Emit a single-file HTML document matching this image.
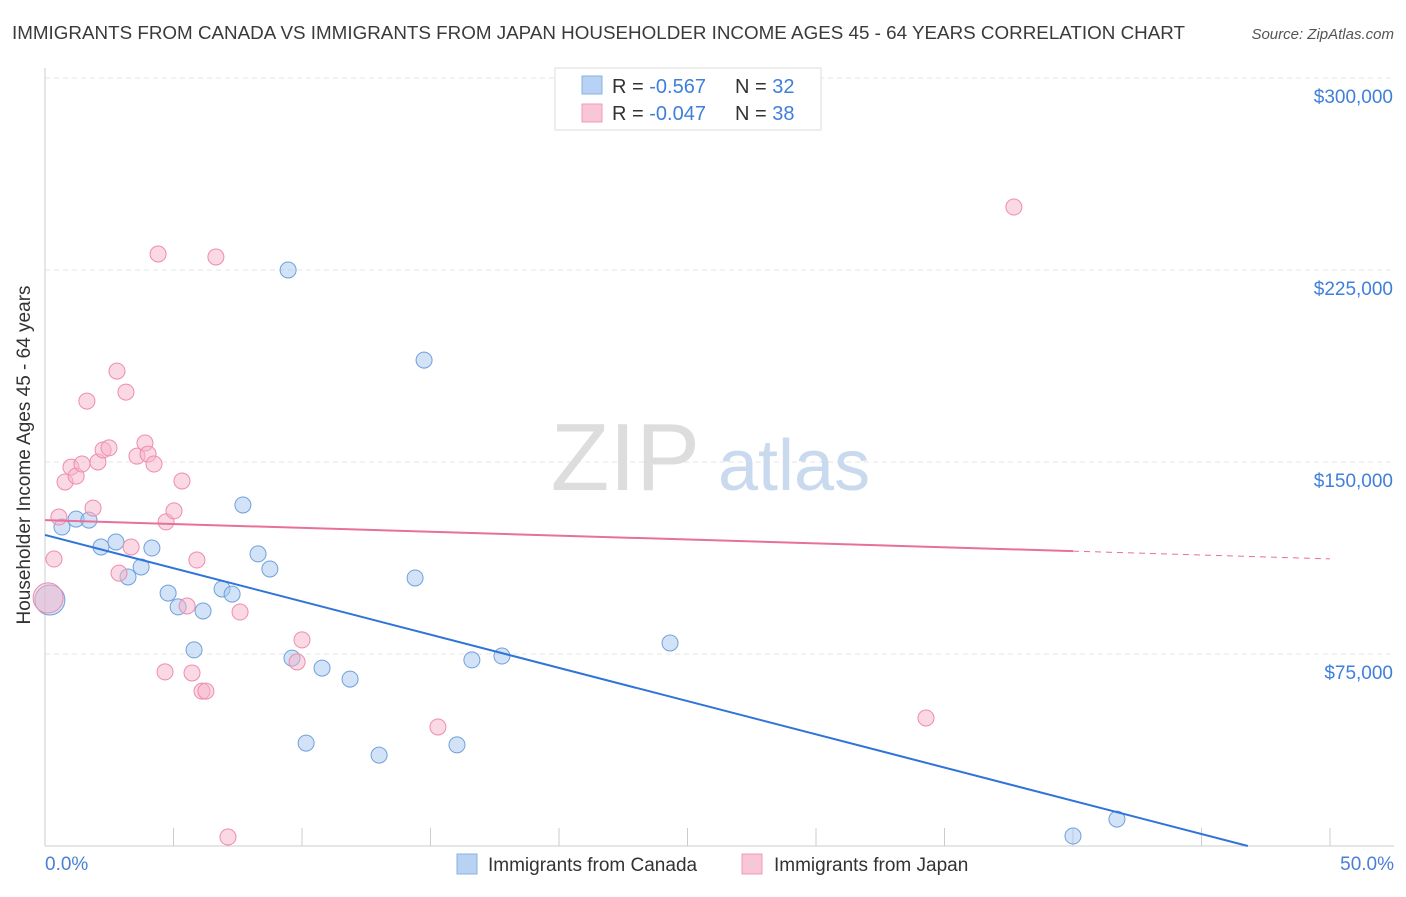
<!DOCTYPE html>
<html><head><meta charset="utf-8">
<style>
body{margin:0;background:#fff;font-family:"Liberation Sans",sans-serif;}
svg text{font-family:"Liberation Sans",sans-serif;}
</style></head>
<body>
<svg id="chart" width="1406" height="892" viewBox="0 0 1406 892" xmlns="http://www.w3.org/2000/svg">
<text x="12" y="39" font-size="18" fill="#3a3a3a" textLength="1173" lengthAdjust="spacingAndGlyphs">IMMIGRANTS FROM CANADA VS IMMIGRANTS FROM JAPAN HOUSEHOLDER INCOME AGES 45 - 64 YEARS CORRELATION CHART</text>
<text x="1394" y="39" font-size="15" fill="#555" font-style="italic" text-anchor="end">Source: ZipAtlas.com</text>
<g id="grid"></g>
<text x="700" y="490" font-size="96" fill="#ddd" font-family="Liberation Serif" text-anchor="end">ZIP</text>
<text x="718" y="490" font-size="72" fill="#c9d9ee">atlas</text>
<g id="marks"></g>
<text x="30" y="455" font-size="19" fill="#333" text-anchor="middle" transform="rotate(-90 30 455)">Householder Income Ages 45 - 64 years</text>
<text x="45" y="870" font-size="19" fill="#4a7fd4">0.0%</text>
<text x="1394" y="870" font-size="19" fill="#4a7fd4" text-anchor="end">50.0%</text>
<g>
<rect x="555" y="68" width="266" height="62" fill="#fff" stroke="#ddd"/>
<rect x="582" y="76" width="20" height="18" fill="#b8d2f4" stroke="#8ab0e4"/>
<rect x="582" y="104" width="20" height="18" fill="#f8c6d6" stroke="#f09ab8"/>
<text x="612" y="93" font-size="20" fill="#333">R = <tspan fill="#3f7fdc">-0.567</tspan><tspan x="735">N = </tspan><tspan fill="#3f7fdc">32</tspan></text>
<text x="612" y="120" font-size="20" fill="#333">R = <tspan fill="#3f7fdc">-0.047</tspan><tspan x="735">N = </tspan><tspan fill="#3f7fdc">38</tspan></text>
</g>
<g>
<rect x="457" y="854" width="20" height="20" fill="#b8d2f4" stroke="#8ab0e4"/>
<text x="488" y="871" font-size="19" fill="#333">Immigrants from Canada</text>
<rect x="742" y="854" width="20" height="20" fill="#f8c6d6" stroke="#f09ab8"/>
<text x="774" y="871" font-size="19" fill="#333">Immigrants from Japan</text>
</g>
</svg>
<script>
const yTicks=[75000,150000,225000,300000];
const yTickLabels=["$75,000","$150,000","$225,000","$300,000"];
const xTicks=[0,5,10,15,20,25,30,35,40,45,50];
const canadaX=[0.19,0.66,1.21,1.71,2.18,2.76,3.23,3.74,4.16,4.79,5.18,5.80,6.15,6.89,7.28,7.70,8.29,8.75,9.46,9.61,10.16,10.78,11.87,13.00,14.40,14.75,16.03,16.61,17.78,24.32,40.0,41.71];
const canadaY=[96100,124600,127700,127300,116800,118750,105100,109000,116400,98800,93400,76600,91800,100400,98400,133200,114100,108200,225000,73400,40200,69500,65200,35500,104700,189800,39500,72700,74200,79300,3900,10500];
const japanX=[0.12,0.35,0.54,0.78,1.01,1.21,1.44,1.63,1.87,2.06,2.26,2.49,2.80,2.88,3.15,3.35,3.58,3.89,4.01,4.24,4.40,4.71,4.67,5.02,5.33,5.53,5.72,5.91,6.11,6.26,6.65,7.12,7.59,9.81,10.00,15.29,34.28,37.70];
const japanY=[96900,112100,128500,142200,148000,144500,149200,173800,132000,150000,154700,155500,185500,106600,177300,116800,152300,157400,153100,149200,231250,126600,68000,130900,142600,93750,67600,111700,60500,60500,230100,3500,91400,71900,80500,46500,50000,249600];
const canadaTrend=[121500,-2596];
const japanTrend=[127300,-303];
const NS="http://www.w3.org/2000/svg";
const X=v=>45+v/50*1285, Y=v=>846-v/75000*192;
const grid=document.getElementById('grid'), marks=document.getElementById('marks');
function mk(t,a,p){const e=document.createElementNS(NS,t);for(const k in a)e.setAttribute(k,a[k]);p.appendChild(e);return e;}
yTicks.forEach((t,i)=>{
 const l=mk('line',{x1:45,x2:1394,y1:Y(t),y2:Y(t),stroke:'#e4e4e4','stroke-dasharray':'5,4'},grid);
 
 
 const tx=mk('text',{x:1393,y:Y(t)+25,'font-size':19,fill:'#3f7fdc','text-anchor':'end'},grid);
 tx.textContent=yTickLabels[i];
 
 
});
mk('line',{x1:45,x2:1394,y1:846,y2:846,stroke:'#ccc'},grid);
mk('line',{x1:45,x2:45,y1:68,y2:846,stroke:'#ccc'},grid);
xTicks.forEach(t=>{
 const l=mk('line',{x1:X(t),x2:X(t),y1:828,y2:846,stroke:'#ccc'},grid);
 
 
});
function dots(xs,ys,fill,stroke,name){
 xs.forEach((x,i)=>{
  const c=mk('circle',{cx:X(x),cy:Y(ys[i]),r:i===0?15:8,fill:fill,'fill-opacity':0.5,stroke:stroke,'stroke-width':1},marks);
  
  
 });
}
dots(canadaX,canadaY,'#a8c8f0','#6fa0dc','canada-point');
dots(japanX,japanY,'#f6b4ca','#ee8cae','japan-point');
const xEndB=-canadaTrend[0]/canadaTrend[1];
const bl=mk('line',{x1:X(0),y1:Y(canadaTrend[0]),x2:X(xEndB),y2:Y(0),stroke:'#2f74d8','stroke-width':2},marks);


const pl=mk('line',{x1:X(0),y1:Y(japanTrend[0]),x2:X(40),y2:Y(japanTrend[0]+japanTrend[1]*40),stroke:'#e8709a','stroke-width':2},marks);


const pd=mk('line',{x1:X(40),y1:Y(japanTrend[0]+japanTrend[1]*40),x2:X(50),y2:Y(japanTrend[0]+japanTrend[1]*50),stroke:'#e8709a','stroke-width':1,'stroke-dasharray':'6,5'},marks);


</script>
</body></html>
